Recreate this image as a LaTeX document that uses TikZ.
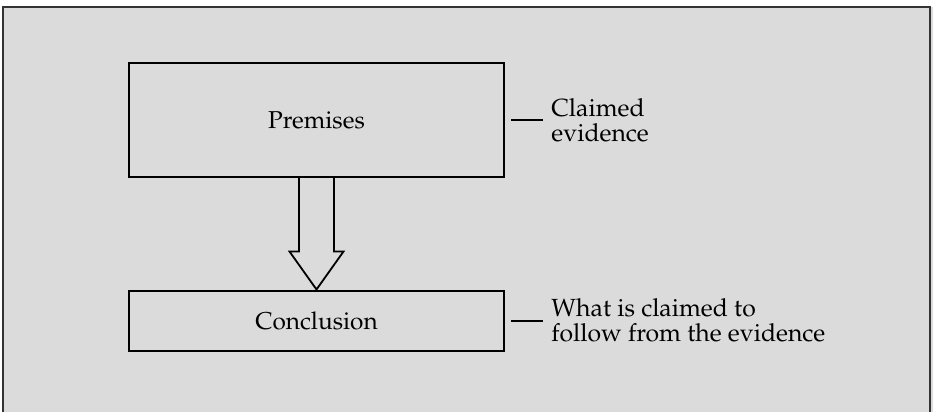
\documentclass[tikz,border=0pt]{standalone}
\usepackage[T1]{fontenc}
\usepackage{mathpazo}
\usepackage{xcolor}
\usepackage{tikz}
\usetikzlibrary{calc}
\definecolor{paper}{RGB}{219,219,219}
\tikzset{
  block/.style={draw, line width=1pt, minimum width=187.5pt, inner sep=0pt},
  note/.style={anchor=west, align=left, inner sep=0pt, font=\fontsize{12.4}{12.6}\selectfont},
  tick/.style={line width=1pt}
}

\begin{document}
\begin{tikzpicture}[x=0.5pt, y=0.5pt, yscale=-1]
    \useasboundingbox (0,0) rectangle (933,412);
    \fill[paper] (3,7) rectangle (933,412);
    \draw[line width=1pt, black!80] (3,412) -- (3,7) -- (930,7) -- (930,412);
    \node[block, minimum height=57pt, font=\fontsize{12.2}{14}\selectfont] (prem) at (316.5,120) {Premises};
    \node[block, minimum height=30pt, font=\fontsize{12.2}{14}\selectfont] (conc) at (316.5,320.5) {Conclusion};
    % hollow arrow
    \draw[line width=0.9pt, line join=miter]
      ($(prem.south)+(-17.5,0)$) -- ($(conc.north)+(-17.5,-38)$)
      -- ($(conc.north)+(-27,-38)$) -- (conc.north)
      -- ($(conc.north)+(27,-38)$) -- ($(conc.north)+(17.5,-38)$)
      -- ($(prem.south)+(17.5,0)$);
    \coordinate (pt) at ($(prem.east)+(6,0)$);
    \coordinate (ct) at ($(conc.east)+(6,0)$);
    \draw[tick] (pt) -- ++(32,0) coordinate (pe);
    \draw[tick] (ct) -- ++(32,0) coordinate (ce);
    \node[note] (pnote) at ($(pe)+(8,0)$) {Claimed\\evidence};
    \node[note] (cnote) at ($(ce)+(8,0)$) {What is claimed to\\follow from the evidence};
\end{tikzpicture}
\end{document}
